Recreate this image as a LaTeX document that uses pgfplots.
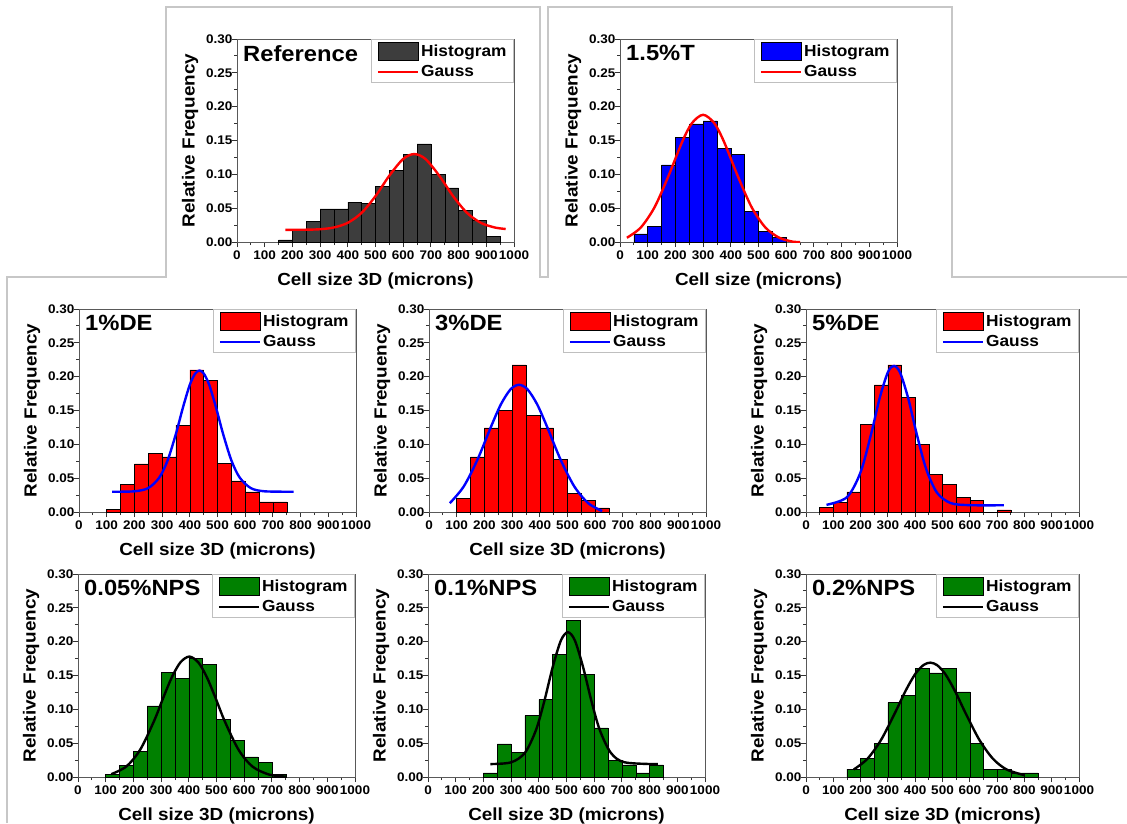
\documentclass[border=0pt]{standalone}
\usepackage{fontspec}
\setmainfont{Liberation Sans}[FakeStretch=1.08]
\usepackage{pgfplots}
\pgfplotsset{compat=1.18}
\definecolor{histgray}{HTML}{3D3D3D}
\definecolor{hgreen}{HTML}{008000}
\definecolor{hred}{HTML}{FF0000}
\definecolor{hblue}{HTML}{0000FF}
\newcommand{\titlefont}{\fontsize{22}{24}\selectfont\bfseries}
\pgfplotsset{
  panel/.style={
    scale only axis, width=277pt, height=203pt, anchor=north west,
    xmin=0, xmax=1000, ymin=0, ymax=0.30,
    xtick={0,100,200,300,400,500,600,700,800,900,1000},
    ytick={0,0.05,0.1,0.15,0.2,0.25,0.3},
    minor x tick num=1, minor y tick num=1,
    tick align=outside, xtick pos=left, ytick pos=left,
    major tick length=5pt, minor tick length=3pt,
    axis line style={black!65, line width=0.9pt},
    tick style={black!80, line width=0.9pt},
    scaled y ticks=false,
    xticklabel style={/pgf/number format/.cd, 1000 sep={}},
    yticklabel style={/pgf/number format/.cd, fixed, fixed zerofill, precision=2, /tikz/.cd, xshift=4pt},
    /pgf/number format/assume math mode=true,
    ticklabel style={font=\fontsize{12.5}{14}\selectfont\bfseries},
    label style={font=\fontsize{17.5}{20}\selectfont\bfseries},
    ylabel={Relative Frequency}, xlabel={Cell size 3D (microns)},
    xlabel style={at={([yshift=-39pt]axis description cs:0.5,0)}, anchor=center},
    ylabel style={at={([xshift=-47pt]axis description cs:0,0.5)}, anchor=center},
    legend style={at={(1,1)}, anchor=north east, draw=black!25, line width=0.8pt,
      font=\fontsize{16}{18}\selectfont\bfseries, inner xsep=5pt, inner ysep=2.5pt,
      row sep=2.5pt, cells={anchor=west}},
    legend cell align=left,
  },
  hist/.style={ybar interval, fill=#1, draw=black, line width=0.5pt,
    legend image code/.code={\draw[fill=#1, draw=black, line width=0.6pt] (0pt,-9pt) rectangle (40pt,9.5pt);}},
  gauss/.style={#1, line width=2.4pt, smooth, line join=round,
    legend image code/.code={\draw[#1, line width=2.4pt] (0pt,0pt) -- (40pt,0pt);}},
}
\begin{document}
\begin{tikzpicture}
\useasboundingbox (0pt,0pt) rectangle (1127pt,-823pt);
\fill[white] (0pt,0pt) rectangle (1127pt,-823pt);
\draw[black!22, line width=1.2pt] (7pt,-823pt) -- (7pt,-277pt) -- (166pt,-277pt) -- (166pt,-7pt) -- (540pt,-7pt) -- (540pt,-277pt) -- (548pt,-277pt) -- (548pt,-7pt) -- (952pt,-7pt) -- (952pt,-277pt) -- (1127pt,-277pt);

% Reference
\begin{axis}[panel, at={(237pt,-39pt)}]
\addplot[hist=histgray] coordinates {(150,0.003)(200,0.017)(250,0.030)(300,0.049)(350,0.049)(400,0.059)(450,0.057)(500,0.082)(550,0.106)(600,0.129)(650,0.145)(700,0.100)(750,0.080)(800,0.047)(850,0.032)(900,0.0085)(950,0)};
\addlegendentry{Histogram}
\addplot[gauss=hred] coordinates {(175,0.0180)(250,0.0182)(300,0.0189)(350,0.0215)(400,0.0284)(450,0.0432)(500,0.0678)(550,0.0981)(600,0.1228)(640,0.1300)(680,0.1228)(730,0.0981)(780,0.0678)(830,0.0432)(880,0.0284)(930,0.0215)(970,0.0192)};
\addlegendentry{Gauss}
\node[anchor=north west, inner sep=0pt, font=\titlefont] at ([xshift=6pt,yshift=-6pt]rel axis cs:0,1) {Reference};
\end{axis}

% 1.5%T
\begin{axis}[panel, at={(620pt,-39pt)}, xlabel={Cell size (microns)}]
\addplot[hist=hblue] coordinates {(50,0.012)(100,0.023)(150,0.114)(200,0.155)(250,0.1745)(300,0.179)(350,0.138)(400,0.130)(450,0.045)(500,0.016)(550,0.0074)(600,0)};
\addlegendentry{Histogram}
\addplot[gauss=hred] coordinates {(25,0.0063)(75,0.0214)(125,0.0516)(175,0.0976)(225,0.1486)(260,0.1758)(300,0.1880)(340,0.1758)(375,0.1486)(425,0.0976)(475,0.0516)(525,0.0214)(575,0.0063)(625,0.0004)(650,0.0000)};
\addlegendentry{Gauss}
\node[anchor=north west, inner sep=0pt, font=\titlefont] at ([xshift=6pt,yshift=-6pt]rel axis cs:0,1) {1.5\%T};
\end{axis}

% 1%DE
\begin{axis}[panel, at={(79pt,-309pt)}]
\addplot[hist=hred] coordinates {(100,0.004)(150,0.0405)(200,0.071)(250,0.0865)(300,0.0815)(350,0.1285)(400,0.210)(450,0.194)(500,0.0717)(550,0.046)(600,0.0297)(650,0.0148)(700,0.0148)(750,0)};
\addlegendentry{Histogram}
\addplot[gauss=hblue] coordinates {(120,0.0300)(200,0.0306)(250,0.0354)(290,0.0510)(320,0.0764)(350,0.1157)(375,0.1540)(400,0.1880)(420,0.2049)(435,0.2090)(450,0.2049)(470,0.1880)(495,0.1540)(520,0.1157)(550,0.0764)(580,0.0510)(620,0.0354)(670,0.0306)(775,0.0300)};
\addlegendentry{Gauss}
\node[anchor=north west, inner sep=0pt, font=\titlefont] at ([xshift=6pt,yshift=-6pt]rel axis cs:0,1) {1\%DE};
\end{axis}

% 3%DE
\begin{axis}[panel, at={(429pt,-309pt)}]
\addplot[hist=hred] coordinates {(100,0.0203)(150,0.0815)(200,0.1245)(250,0.150)(300,0.2175)(350,0.1424)(400,0.1245)(450,0.078)(500,0.028)(550,0.0173)(600,0.006)(650,0)};
\addlegendentry{Histogram}
\addplot[gauss=hblue] coordinates {(75,0.0130)(125,0.0375)(175,0.0774)(225,0.1272)(260,0.1595)(295,0.1816)(325,0.1880)(355,0.1816)(390,0.1595)(425,0.1272)(475,0.0774)(525,0.0375)(575,0.0130)(625,0.0014)};
\addlegendentry{Gauss}
\node[anchor=north west, inner sep=0pt, font=\titlefont] at ([xshift=6pt,yshift=-6pt]rel axis cs:0,1) {3\%DE};
\end{axis}

% 5%DE
\begin{axis}[panel, width=273pt, at={(806pt,-309pt)}, xlabel={}]
\addplot[hist=hred] coordinates {(50,0.0064)(100,0.0138)(150,0.0297)(200,0.1295)(250,0.188)(300,0.2175)(350,0.1695)(400,0.0998)(450,0.0554)(500,0.0405)(550,0.0213)(600,0.0173)(650,0)(700,0.003)(750,0)};
\addlegendentry{Histogram}
\addplot[gauss=hblue] coordinates {(75,0.0106)(150,0.0219)(200,0.0590)(240,0.1177)(270,0.1687)(300,0.2066)(322,0.2160)(345,0.2057)(375,0.1671)(405,0.1160)(440,0.0638)(480,0.0285)(530,0.0132)(600,0.0101)(725,0.0100)};
\addlegendentry{Gauss}
\node[anchor=north west, inner sep=0pt, font=\titlefont] at ([xshift=6pt,yshift=-6pt]rel axis cs:0,1) {5\%DE};
\end{axis}

% 0.05%NPS
\begin{axis}[panel, at={(78pt,-574pt)}]
\addplot[hist=hgreen] coordinates {(100,0.0044)(150,0.0173)(200,0.0375)(250,0.105)(300,0.155)(350,0.146)(400,0.175)(450,0.167)(500,0.085)(550,0.0543)(600,0.0296)(650,0.022)(700,0.004)(750,0)};
\addlegendentry{Histogram}
\addplot[gauss=black] coordinates {(120,0.0042)(175,0.0157)(225,0.0407)(275,0.0832)(310,0.1194)(340,0.1485)(370,0.1696)(402,0.1780)(435,0.1691)(465,0.1476)(495,0.1184)(530,0.0822)(580,0.0400)(630,0.0154)(690,0.0036)(750,0.0006)};
\addlegendentry{Gauss}
\node[anchor=north west, inner sep=0pt, font=\titlefont] at ([xshift=6pt,yshift=-6pt]rel axis cs:0,1) {0.05\%NPS};
\end{axis}

% 0.1%NPS
\begin{axis}[panel, at={(428pt,-574pt)}]
\addplot[hist=hgreen] coordinates {(200,0.006)(250,0.049)(300,0.036)(350,0.0908)(400,0.1145)(450,0.181)(500,0.231)(550,0.1515)(600,0.0725)(650,0.0247)(700,0.018)(750,0.006)(800,0.018)(850,0)};
\addlegendentry{Histogram}
\addplot[gauss=black] coordinates {(225,0.0191)(300,0.0217)(350,0.0358)(390,0.0696)(420,0.1123)(450,0.1622)(480,0.2020)(505,0.2140)(530,0.2020)(560,0.1622)(590,0.1123)(620,0.0696)(660,0.0358)(710,0.0217)(830,0.0190)};
\addlegendentry{Gauss}
\node[anchor=north west, inner sep=0pt, font=\titlefont] at ([xshift=6pt,yshift=-6pt]rel axis cs:0,1) {0.1\%NPS};
\end{axis}

% 0.2%NPS
\begin{axis}[panel, width=273pt, at={(806pt,-574pt)}]
\addplot[hist=hgreen] coordinates {(150,0.0118)(200,0.027)(250,0.0498)(300,0.110)(350,0.1209)(400,0.160)(450,0.154)(500,0.160)(550,0.126)(600,0.0498)(650,0.0113)(700,0.0113)(750,0.006)(800,0.006)(850,0)};
\addlegendentry{Histogram}
\addplot[gauss=black] coordinates {(175,0.0111)(225,0.0269)(275,0.0549)(325,0.0940)(365,0.1276)(400,0.1522)(430,0.1654)(455,0.1690)(480,0.1654)(510,0.1522)(545,0.1276)(585,0.0940)(635,0.0549)(685,0.0269)(735,0.0111)(800,0.0027)};
\addlegendentry{Gauss}
\node[anchor=north west, inner sep=0pt, font=\titlefont] at ([xshift=6pt,yshift=-6pt]rel axis cs:0,1) {0.2\%NPS};
\end{axis}
\end{tikzpicture}
\end{document}
